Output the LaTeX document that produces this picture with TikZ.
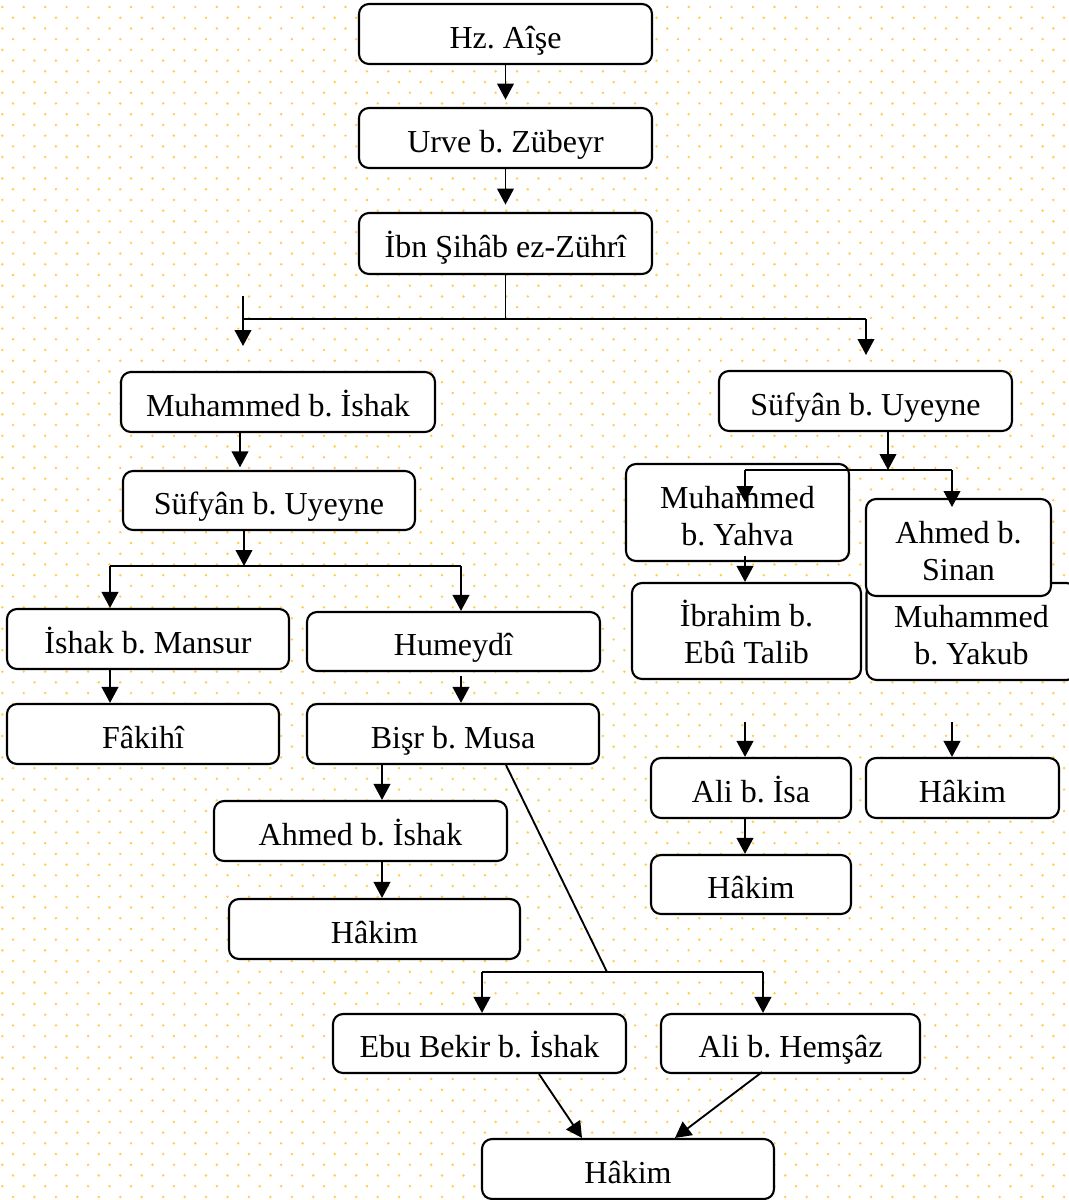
\documentclass[tikz,border=0pt]{standalone}
\usepackage{fontspec}
\setmainfont{Liberation Serif}
\usetikzlibrary{arrows.meta,calc}
\definecolor{dotyellow}{RGB}{255,205,70}
\frenchspacing
\begin{document}
\begin{tikzpicture}[x=0.75pt,y=-0.75pt,
        every node/.style={draw,fill=white,rounded corners=7.5pt,line width=1.6pt,
            font=\fontsize{24}{27.75}\selectfont,align=center,inner sep=0pt},
        wd/.style={minimum width=#1*0.75pt},
        ht/.style={minimum height=#1*0.75pt,text height=24pt,text depth=3pt},
        two/.style={minimum height=#1*0.75pt,text height=48.75pt,text depth=0pt},
        arr/.style={line width=1.4pt,-{Triangle[width=12.5pt,length=12pt]}},
        ln/.style={line width=1.4pt}]
        \useasboundingbox (0,0) rectangle (1069,1200);
        \fill[white] (0,0) rectangle (1069,1200);
        \foreach \r in {0,...,111}
            \foreach \c in {0,...,49}
                \fill[dotyellow] ({2.3+\c*21.45+mod(\r,2)*10.72},{7+\r*10.72}) circle (1pt);

        \node[wd=293,ht=60] (aise)     at (505.5,34)    {Hz. Aîşe};
        \node[wd=293,ht=60] (urve)     at (505.5,138)   {Urve b. Zübeyr};
        \node[wd=293,ht=61] (ibn)      at (505.5,243.5) {İbn Şihâb ez-Zührî};

        \node[wd=314,ht=60] (mishak)   at (278,402)     {Muhammed b. İshak};
        \node[wd=292,ht=59] (sufyanL)  at (269,500.5)   {Süfyân b. Uyeyne};
        \node[wd=282,ht=60] (ishak)    at (148,639)     {İshak b. Mansur};
        \node[wd=293,ht=59] (humeydi)  at (453.5,641.5) {Humeydî};
        \node[wd=272,ht=60] (fakihi)   at (143,734)     {Fâkihî};
        \node[wd=292,ht=60] (bisr)     at (453,734)     {Bişr b. Musa};
        \node[wd=293,ht=60] (ahmedI)   at (360.5,831)   {Ahmed b. İshak};
        \node[wd=291,ht=60] (hakimA)   at (374.5,929)   {Hâkim};
        \node[wd=293,ht=59] (ebubekir) at (479.5,1043.5){Ebu Bekir b. İshak};
        \node[wd=259,ht=59] (alihem)   at (790.5,1043.5){Ali b. Hemşâz};
        \node[wd=292,ht=60] (hakimE)   at (628,1169)    {Hâkim};

        \node[wd=293,ht=60] (sufyanR)  at (865.5,401)   {Süfyân b. Uyeyne};
        \node[wd=223,two=97] (myahya)  at (737.5,512.5) {Muhammed\\b. Yahva};
        \node[wd=229,two=96] (ibrahim) at (746.5,631)   {İbrahim b.\\Ebû Talib};
        \node[wd=210,two=97] (myakub)  at (971.5,631.5) {Muhammed\\b. Yakub};
        \node[wd=185,two=97] (ahmedS)  at (958.5,547.5) {Ahmed b.\\Sinan};
        \node[wd=200,ht=60] (aliisa)   at (751,788)     {Ali b. İsa};
        \node[wd=193,ht=60] (hakimR)   at (962.5,788)   {Hâkim};
        \node[wd=200,ht=59] (hakimB)   at (751,884.5)   {Hâkim};

        \coordinate (splitL) at (243,319);
        \coordinate (splitR) at (866,319);
        \coordinate (topL)   at (243,296);
        \coordinate (tipL)   at (243,346);
        \coordinate (tipR)   at (866,355);
        \coordinate (xA)     at (240,0);
        \coordinate (forkL)  at (244,566);
        \coordinate (forkLa) at (110,566);
        \coordinate (forkLb) at (461,566);
        \coordinate (xE)     at (382,0);
        \coordinate (forkB)  at (607,972);
        \coordinate (forkBa) at (482,972);
        \coordinate (forkBb) at (763,972);
        \coordinate (forkR)  at (888,470);
        \coordinate (forkRa) at (745,470);
        \coordinate (forkRb) at (952,470);
        \coordinate (tipRa)  at (745,502);
        \coordinate (tipRb)  at (952,507);
        \coordinate (topRa)  at (745,722);
        \coordinate (topRb)  at (952,722);

        \draw[arr,shorten >=5.5pt] (aise) -- (urve);
        \draw[arr,shorten >=5.5pt] (urve) -- (ibn);
        \draw[ln] (ibn.south) -- (ibn.south |- splitL);
        \draw[ln] (splitL) -- (splitR);
        \draw[arr] (topL) -- (tipL);
        \draw[arr] (splitR) -- (tipR);

        \draw[arr,shorten >=2pt] (mishak.south -| xA) -- (sufyanL.north -| xA);
        \draw[arr] (sufyanL.south -| forkL) -- (forkL);
        \draw[ln] (forkLa) -- (forkLb);
        \draw[arr] (forkLa) -- (forkLa |- ishak.north);
        \draw[arr] (forkLb) -- (forkLb |- humeydi.north);
        \draw[arr] (ishak.south -| forkLa) -- (fakihi.north -| forkLa);
        \draw[arr] ($(humeydi.south -| forkLb)+(0,4)$) -- (bisr.north -| forkLb);
        \draw[arr] (bisr.south -| xE) -- (ahmedI.north -| xE);
        \draw[arr] (ahmedI.south -| xE) -- (hakimA.north -| xE);
        \draw[ln] ($(bisr.south)+(53,0)$) -- (forkB);
        \draw[ln] (forkBa) -- (forkBb);
        \draw[arr] (forkBa) -- (forkBa |- ebubekir.north);
        \draw[arr] (forkBb) -- (forkBb |- alihem.north);
        \draw[arr] ($(ebubekir.south)+(59.5,0)$) -- ($(hakimE.north)+(-46,0)$);
        \draw[arr] ($(alihem.south)+(-28.5,-2)$) -- ($(hakimE.north)+(47,0)$);

        \draw[arr] (sufyanR.south -| forkR) -- (forkR);
        \draw[ln] (forkRa) -- (forkRb);
        \draw[arr] (forkRa) -- (tipRa);
        \draw[arr] (forkRb) -- (tipRb);
        \draw[arr] ($(myahya.south -| forkRa)+(0,-6)$) -- (ibrahim.north -| forkRa);
        \draw[arr] (topRa) -- (aliisa.north -| topRa);
        \draw[arr] (topRb) -- (hakimR.north -| topRb);
        \draw[arr] (aliisa.south -| topRa) -- (hakimB.north -| topRa);
    \end{tikzpicture}
\end{document}
